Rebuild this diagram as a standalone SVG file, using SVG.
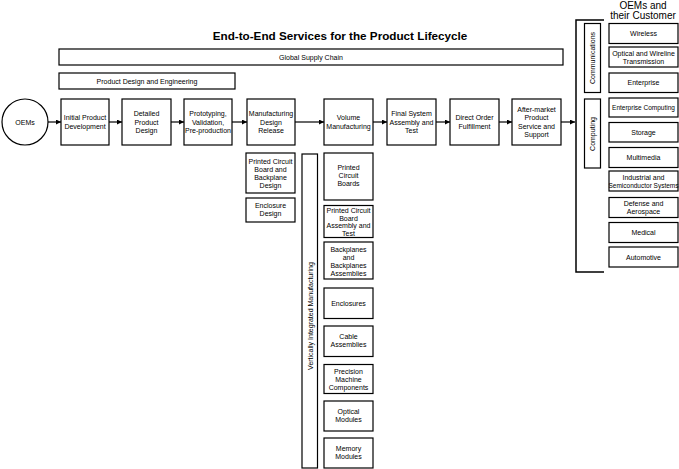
<svg xmlns="http://www.w3.org/2000/svg" width="679" height="469" viewBox="0 0 679 469">
<style>
  .bx{fill:#fff;stroke:#000;stroke-width:1.2}
  .t{font-family:"Liberation Sans",Arial,sans-serif;font-size:7px;fill:#000;text-anchor:middle}
  .sm{font-size:6.5px}
  .ttl{font-family:"Liberation Sans",Arial,sans-serif;font-size:11.7px;font-weight:bold;fill:#000;text-anchor:middle}
  .hd{font-family:"Liberation Sans",Arial,sans-serif;font-size:10px;fill:#000;text-anchor:middle}
  .ln{fill:none;stroke:#000;stroke-width:1.2}
  .br{fill:none;stroke:#000;stroke-width:1.5}
</style>
<defs>
  <marker id="ah" viewBox="0 0 10 10" refX="10" refY="5" markerWidth="5" markerHeight="5" markerUnits="userSpaceOnUse" orient="auto">
    <path d="M0,0 L10,5 L0,10 Z" fill="#000"/>
  </marker>
</defs>
<rect width="679" height="469" fill="#fff"/>
<text class="ttl" x="340" y="40">End-to-End Services for the Product Lifecycle</text>
<text class="hd" x="643" y="9">OEMs and</text>
<text class="hd" x="643" y="19">their Customer</text>

<g id="global-supply-chain"><rect class="bx" x="59" y="49" width="504" height="16"/><text class="t" x="311" y="60">Global Supply Chain</text></g>
<g id="product-design-eng"><rect class="bx" x="59" y="73" width="176" height="16"/><text class="t" x="147" y="84">Product Design and Engineering</text></g>

<g id="oems"><circle class="bx" cx="25" cy="122" r="23"/><text class="t" x="25" y="125">OEMs</text></g>

<g id="initial"><rect class="bx" x="61" y="99" width="48" height="46"/><text class="t" x="85" y="120">Initial Product</text><text class="t" x="85" y="128.5">Development</text></g>
<g id="detailed"><rect class="bx" x="122" y="99" width="49" height="46"/><text class="t" x="146.5" y="116">Detailed</text><text class="t" x="146.5" y="124.5">Product</text><text class="t" x="146.5" y="133">Design</text></g>
<g id="prototyping"><rect class="bx" x="184" y="99" width="48" height="46"/><text class="t" x="208" y="116">Prototyping,</text><text class="t" x="208" y="124.5">Validation,</text><text class="t" x="208" y="133">Pre-production</text></g>
<g id="mdr"><rect class="bx" x="247" y="99" width="48" height="46"/><text class="t" x="271" y="116">Manufacturing</text><text class="t" x="271" y="124.5">Design</text><text class="t" x="271" y="133">Release</text></g>
<g id="volume"><rect class="bx" x="324" y="99" width="49" height="46"/><text class="t" x="348.5" y="120">Volume</text><text class="t" x="348.5" y="128.5">Manufacturing</text></g>
<g id="final"><rect class="bx" x="387" y="99" width="49" height="46"/><text class="t" x="411.5" y="116">Final System</text><text class="t" x="411.5" y="124.5">Assembly and</text><text class="t" x="411.5" y="133">Test</text></g>
<g id="direct"><rect class="bx" x="450" y="99" width="49" height="46"/><text class="t" x="474.5" y="120">Direct Order</text><text class="t" x="474.5" y="128.5">Fulfillment</text></g>
<g id="aftermarket"><rect class="bx" x="512" y="99" width="49" height="46"/><text class="t" x="536.5" y="111.5">After-market</text><text class="t" x="536.5" y="120">Product</text><text class="t" x="536.5" y="128.5">Service and</text><text class="t" x="536.5" y="137">Support</text></g>

<g id="pcb-design"><rect class="bx" x="246" y="153" width="49" height="40"/><text class="t" x="270.5" y="164">Printed Circuit</text><text class="t" x="270.5" y="172">Board and</text><text class="t" x="270.5" y="180">Backplane</text><text class="t" x="270.5" y="188">Design</text></g>
<g id="enclosure-design"><rect class="bx" x="246" y="198" width="49" height="24"/><text class="t" x="270.5" y="208">Enclosure</text><text class="t" x="270.5" y="216">Design</text></g>

<g id="vim"><rect class="bx" x="302" y="154" width="15.5" height="314"/><text class="t" transform="translate(312.5,316) rotate(-90)" x="0" y="0">Vertically Integrated Manufacturing</text></g>

<g id="pcbs"><rect class="bx" x="324" y="153" width="49" height="47"/><text class="t" x="348.5" y="170">Printed</text><text class="t" x="348.5" y="178">Circuit</text><text class="t" x="348.5" y="186">Boards</text></g>
<g id="pcba"><rect class="bx" x="324" y="205.5" width="49" height="32"/><text class="t" x="348.5" y="213">Printed Circuit</text><text class="t" x="348.5" y="220.5">Board</text><text class="t" x="348.5" y="228">Assembly and</text><text class="t" x="348.5" y="235.5">Test</text></g>
<g id="backplanes"><rect class="bx" x="324" y="242" width="49" height="37"/><text class="t" x="348.5" y="252">Backplanes</text><text class="t" x="348.5" y="260">and</text><text class="t" x="348.5" y="268">Backplanes</text><text class="t" x="348.5" y="276">Assemblies</text></g>
<g id="enclosures"><rect class="bx" x="324" y="288" width="49" height="30.5"/><text class="t" x="348.5" y="306">Enclosures</text></g>
<g id="cable"><rect class="bx" x="324" y="326" width="49" height="30.5"/><text class="t" x="348.5" y="339">Cable</text><text class="t" x="348.5" y="347">Assemblies</text></g>
<g id="precision"><rect class="bx" x="324" y="364.5" width="49" height="29"/><text class="t" x="348.5" y="373.5">Precision</text><text class="t" x="348.5" y="381.5">Machine</text><text class="t" x="348.5" y="389.5">Components</text></g>
<g id="optical-modules"><rect class="bx" x="324" y="401" width="49" height="30"/><text class="t" x="348.5" y="414">Optical</text><text class="t" x="348.5" y="422">Modules</text></g>
<g id="memory"><rect class="bx" x="324" y="438" width="49" height="30"/><text class="t" x="348.5" y="451">Memory</text><text class="t" x="348.5" y="459">Modules</text></g>

<g id="communications"><rect class="bx" x="584.5" y="23.5" width="16" height="69"/><text class="t" transform="translate(595,58) rotate(-90)" x="0" y="0">Communications</text></g>
<g id="computing"><rect class="bx" x="584.5" y="99" width="16" height="69"/><text class="t" transform="translate(595,134) rotate(-90)" x="0" y="0">Computing</text></g>

<g id="wireless"><rect class="bx" x="609" y="23.5" width="69" height="20"/><text class="t" x="643.5" y="36">Wireless</text></g>
<g id="optical-wireline"><rect class="bx" x="609" y="47" width="69" height="20"/><text class="t" x="643.5" y="55.5">Optical and Wireline</text><text class="t" x="643.5" y="63.5">Transmission</text></g>
<g id="enterprise"><rect class="bx" x="609" y="73" width="69" height="19.5"/><text class="t" x="643.5" y="85">Enterprise</text></g>
<g id="enterprise-computing"><rect class="bx" x="609" y="98" width="69" height="19"/><text class="t sm" x="643.5" y="110">Enterprise Computing</text></g>
<g id="storage"><rect class="bx" x="609" y="122.5" width="69" height="19.5"/><text class="t" x="643.5" y="135">Storage</text></g>
<g id="multimedia"><rect class="bx" x="609" y="147.5" width="69" height="20"/><text class="t" x="643.5" y="160">Multimedia</text></g>
<g id="industrial"><rect class="bx" x="609" y="171" width="69" height="20"/><text class="t" x="643.5" y="179.5">Industrial and</text><text class="t sm" x="643.5" y="187.5">Semiconductor Systems</text></g>
<g id="defense"><rect class="bx" x="609" y="197.5" width="69" height="20"/><text class="t" x="643.5" y="206">Defense and</text><text class="t" x="643.5" y="214">Aerospace</text></g>
<g id="medical"><rect class="bx" x="609" y="222.5" width="69" height="20"/><text class="t" x="643.5" y="235">Medical</text></g>
<g id="automotive"><rect class="bx" x="609" y="247" width="69" height="20"/><text class="t" x="643.5" y="259.5">Automotive</text></g>

<g id="connectors">
  <path class="br" d="M604,20 H576 V272 H604"/>
  <line class="ln" x1="48" y1="122" x2="61" y2="122" marker-end="url(#ah)"/>
  <line class="ln" x1="109" y1="122" x2="122" y2="122" marker-end="url(#ah)"/>
  <line class="ln" x1="171" y1="122" x2="184" y2="122" marker-end="url(#ah)"/>
  <line class="ln" x1="232" y1="122" x2="247" y2="122" marker-end="url(#ah)"/>
  <line class="ln" x1="295" y1="122" x2="324" y2="122" marker-end="url(#ah)"/>
  <line class="ln" x1="373" y1="122" x2="387" y2="122" marker-end="url(#ah)"/>
  <line class="ln" x1="436" y1="122" x2="450" y2="122" marker-end="url(#ah)"/>
  <line class="ln" x1="499" y1="122" x2="512" y2="122" marker-end="url(#ah)"/>
  <line class="ln" x1="561" y1="122" x2="575" y2="122" marker-end="url(#ah)"/>
</g>
</svg>
